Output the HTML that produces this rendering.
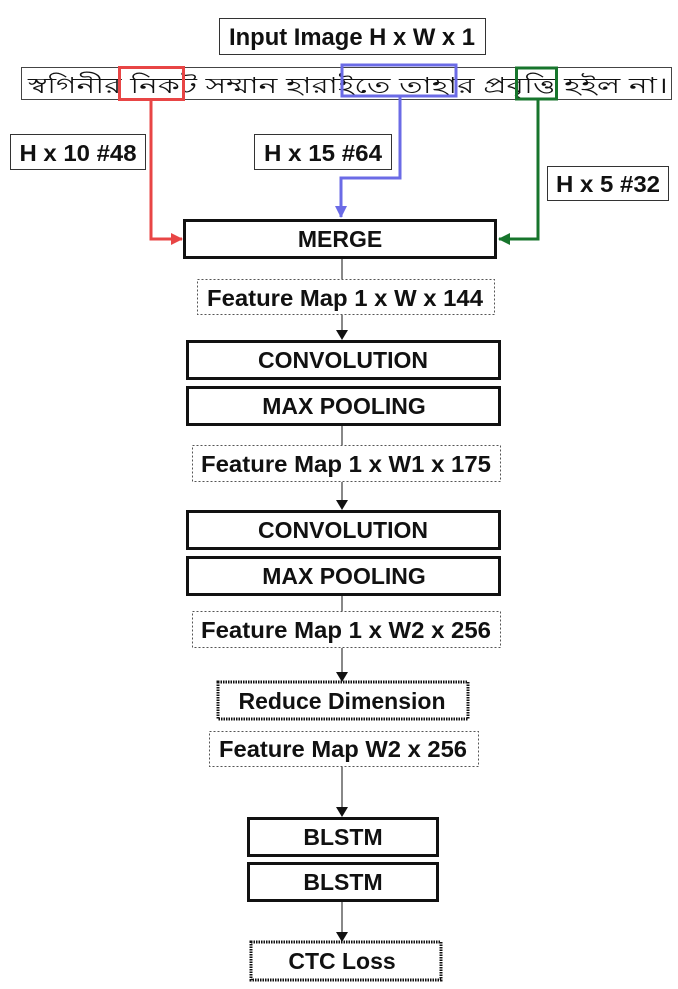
<!DOCTYPE html>
<html><head><meta charset="utf-8"><style>
html,body{margin:0;padding:0;background:#fff;}
svg{display:block;}
text{font-family:"Liberation Sans","Noto Sans CJK SC",sans-serif;font-weight:bold;fill:#111;}
</style></head><body>
<svg width="678" height="989" viewBox="0 0 678 989" xmlns="http://www.w3.org/2000/svg">
<defs>
<marker id="ak" markerWidth="10" markerHeight="12" refX="9" refY="6" orient="auto" markerUnits="userSpaceOnUse"><path d="M0,0 L10,6 L0,12 z" fill="#111"/></marker>
<marker id="ar" markerWidth="12" markerHeight="12" refX="11" refY="6" orient="auto" markerUnits="userSpaceOnUse"><path d="M0,0 L12,6 L0,12 z" fill="#e84545"/></marker>
<marker id="ab" markerWidth="12" markerHeight="12" refX="11" refY="6" orient="auto" markerUnits="userSpaceOnUse"><path d="M0,0 L12,6 L0,12 z" fill="#6b6be6"/></marker>
<marker id="ag" markerWidth="12" markerHeight="12" refX="11" refY="6" orient="auto" markerUnits="userSpaceOnUse"><path d="M0,0 L12,6 L0,12 z" fill="#17752c"/></marker>
</defs>

<rect x="219.5" y="18.5" width="266" height="36" fill="#fff" stroke="#333" stroke-width="1"/>
<text x="352" y="45" font-size="24" text-anchor="middle" textLength="246" lengthAdjust="spacingAndGlyphs">Input Image H x W x 1</text>

<rect x="21.5" y="67.5" width="650" height="32" fill="#fff" stroke="#444" stroke-width="1"/>
<text x="28" y="93" font-size="22" style="font-weight:normal" fill="#222" textLength="640" lengthAdjust="spacingAndGlyphs">স্বগিনীর  নিকট সম্মান হারাইতে  তাহার  প্রবৃত্তি হইল  না।</text>

<rect x="119.5" y="67.5" width="64" height="32" fill="none" stroke="#e84545" stroke-width="3"/>
<rect x="342" y="65" width="114" height="31" fill="none" stroke="#6b6be6" stroke-width="3"/>
<rect x="516.5" y="68" width="40" height="31" fill="none" stroke="#17752c" stroke-width="3"/>

<polyline points="151,100 151,239 182,239" fill="none" stroke="#e84545" stroke-width="3" marker-end="url(#ar)"/>
<polyline points="400,97 400,178 341,178 341,217" fill="none" stroke="#6b6be6" stroke-width="3" marker-end="url(#ab)"/>
<polyline points="538,99 538,239 499,239" fill="none" stroke="#17752c" stroke-width="3" marker-end="url(#ag)"/>

<rect x="10.5" y="134.5" width="135" height="35" fill="#fff" stroke="#333" stroke-width="1"/>
<text x="78" y="161" font-size="23" text-anchor="middle" textLength="117" lengthAdjust="spacingAndGlyphs">H x 10 #48</text>
<rect x="254.5" y="134.5" width="137" height="35" fill="#fff" stroke="#333" stroke-width="1"/>
<text x="323" y="161" font-size="23" text-anchor="middle" textLength="118" lengthAdjust="spacingAndGlyphs">H x 15 #64</text>
<rect x="547.5" y="166.5" width="121" height="34" fill="#fff" stroke="#333" stroke-width="1"/>
<text x="608" y="192" font-size="23" text-anchor="middle" textLength="104" lengthAdjust="spacingAndGlyphs">H x 5 #32</text>

<rect x="184.5" y="220.5" width="311" height="37" fill="#fff" stroke="#111" stroke-width="3"/>
<text x="340" y="247" font-size="23" text-anchor="middle">MERGE</text>

<line x1="342" y1="259" x2="342" y2="279" stroke="#111" stroke-width="1"/>
<rect x="197.5" y="279.5" width="297" height="35" fill="#fff" stroke="#555" stroke-width="1" stroke-dasharray="2,2"/>
<text x="345" y="306" font-size="23" text-anchor="middle" textLength="276" lengthAdjust="spacingAndGlyphs">Feature Map 1 x W x 144</text>
<line x1="342" y1="315" x2="342" y2="339" stroke="#111" stroke-width="1" marker-end="url(#ak)"/>

<rect x="187.5" y="341.5" width="312" height="37" fill="#fff" stroke="#111" stroke-width="3"/>
<text x="343" y="368" font-size="23" text-anchor="middle">CONVOLUTION</text>
<rect x="187.5" y="387.5" width="312" height="37" fill="#fff" stroke="#111" stroke-width="3"/>
<text x="344" y="414" font-size="23" text-anchor="middle">MAX POOLING</text>

<line x1="342" y1="426" x2="342" y2="445" stroke="#111" stroke-width="1"/>
<rect x="192.5" y="445.5" width="308" height="36" fill="#fff" stroke="#555" stroke-width="1" stroke-dasharray="2,2"/>
<text x="346" y="472" font-size="23" text-anchor="middle" textLength="290" lengthAdjust="spacingAndGlyphs">Feature Map 1 x W1 x 175</text>
<line x1="342" y1="482" x2="342" y2="509" stroke="#111" stroke-width="1" marker-end="url(#ak)"/>

<rect x="187.5" y="511.5" width="312" height="37" fill="#fff" stroke="#111" stroke-width="3"/>
<text x="343" y="538" font-size="23" text-anchor="middle">CONVOLUTION</text>
<rect x="187.5" y="557.5" width="312" height="37" fill="#fff" stroke="#111" stroke-width="3"/>
<text x="344" y="584" font-size="23" text-anchor="middle">MAX POOLING</text>

<line x1="342" y1="596" x2="342" y2="611" stroke="#111" stroke-width="1"/>
<rect x="192.5" y="611.5" width="308" height="36" fill="#fff" stroke="#555" stroke-width="1" stroke-dasharray="2,2"/>
<text x="346" y="638" font-size="23" text-anchor="middle" textLength="290" lengthAdjust="spacingAndGlyphs">Feature Map 1 x W2 x 256</text>
<line x1="342" y1="648" x2="342" y2="681" stroke="#111" stroke-width="1" marker-end="url(#ak)"/>

<rect x="218" y="682" width="250" height="37" fill="#fff" stroke="#111" stroke-width="3" stroke-dasharray="1.5,1"/>
<text x="342" y="709" font-size="23" text-anchor="middle">Reduce Dimension</text>

<rect x="209.5" y="731.5" width="269" height="35" fill="#fff" stroke="#555" stroke-width="1" stroke-dasharray="2,2"/>
<text x="343" y="757" font-size="23" text-anchor="middle" textLength="248" lengthAdjust="spacingAndGlyphs">Feature Map W2 x 256</text>
<line x1="342" y1="767" x2="342" y2="816" stroke="#111" stroke-width="1" marker-end="url(#ak)"/>

<rect x="248.5" y="818.5" width="189" height="37" fill="#fff" stroke="#111" stroke-width="3"/>
<text x="343" y="845" font-size="23" text-anchor="middle">BLSTM</text>
<rect x="248.5" y="863.5" width="189" height="37" fill="#fff" stroke="#111" stroke-width="3"/>
<text x="343" y="890" font-size="23" text-anchor="middle">BLSTM</text>
<line x1="342" y1="902" x2="342" y2="941" stroke="#111" stroke-width="1" marker-end="url(#ak)"/>

<rect x="251" y="942" width="190" height="38" fill="#fff" stroke="#111" stroke-width="3" stroke-dasharray="1.5,1"/>
<text x="342" y="969" font-size="23" text-anchor="middle">CTC Loss</text>
</svg>
</body></html>
